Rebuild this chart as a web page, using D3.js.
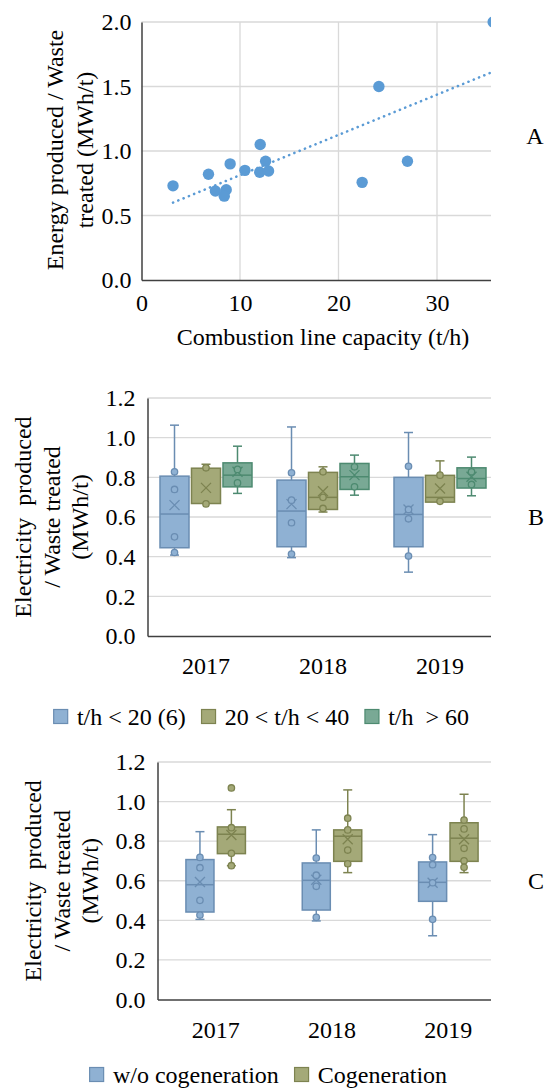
<!DOCTYPE html>
<html>
<head>
<meta charset="utf-8">
<script src="https://cdn.jsdelivr.net/npm/d3@7"></script>
<style>
    body { margin: 0; background: #fff; }
    svg text { font-family: "Liberation Serif", "Times New Roman", serif; font-size: 24px; fill: #000; }
    .grid line { stroke: #d9d9d9; stroke-width: 1.3; }
    .axis path { stroke: #404040; stroke-width: 1.5; }
</style>
</head>
<body>
<div id="chart"></div>
<script>
// ---- panel A : scatter ----
var capacityA = [3.2, 6.8, 7.5, 8.6, 8.4, 9.0, 10.5, 12.05, 12.0, 12.6, 12.9, 22.4, 24.1, 27.0, 35.7];
var energyA = [0.73, 0.82, 0.69, 0.70, 0.65, 0.90, 0.85, 1.05, 0.835, 0.92, 0.845, 0.757, 1.50, 0.92, 2.0];
var trendX = [3.2, 35.7];
var trendY = [0.60, 1.615];
var xTicksA = [0, 10, 20, 30];
var yTicksA = [0, 0.5, 1.0, 1.5, 2.0];

// ---- panels B and C : box plots ----
var years = ['2017', '2018', '2019'];
var yTicksBox = [0, 0.2, 0.4, 0.6, 0.8, 1.0, 1.2];

var groupsB = ['t/h < 20 (6)', '20 < t/h < 40', 't/h  > 60'];
var boxesB = [
    { year: '2017', group: 0, min: 0.408, q1: 0.445, median: 0.615, q3: 0.806, max: 1.063, mean: 0.66, points: [0.828, 0.739, 0.50, 0.421] },
    { year: '2017', group: 1, min: 0.668, q1: 0.668, median: null, q3: 0.846, max: 0.866, mean: 0.747, points: [0.848, 0.666] },
    { year: '2017', group: 2, min: 0.719, q1: 0.752, median: 0.811, q3: 0.873, max: 0.957, mean: 0.828, points: [0.840, 0.772] },
    { year: '2018', group: 0, min: 0.395, q1: 0.45, median: 0.63, q3: 0.786, max: 1.054, mean: 0.665, points: [0.823, 0.685, 0.571, 0.413] },
    { year: '2018', group: 1, min: 0.625, q1: 0.638, median: 0.699, q3: 0.825, max: 0.853, mean: 0.730, points: [0.828, 0.699, 0.643] },
    { year: '2018', group: 2, min: 0.710, q1: 0.739, median: 0.803, q3: 0.870, max: 0.912, mean: 0.811, points: [0.853, 0.752] },
    { year: '2019', group: 0, min: 0.322, q1: 0.45, median: 0.613, q3: 0.80, max: 1.026, mean: 0.638, points: [0.856, 0.638, 0.591, 0.403] },
    { year: '2019', group: 1, min: 0.675, q1: 0.675, median: 0.699, q3: 0.81, max: 0.883, mean: 0.744, points: [0.811, 0.679] },
    { year: '2019', group: 2, min: 0.707, q1: 0.746, median: 0.794, q3: 0.848, max: 0.902, mean: 0.803, points: [0.828, 0.764] }
];

var groupsC = ['w/o cogeneration', 'Cogeneration'];
var boxesC = [
    { year: '2017', group: 0, min: 0.405, q1: 0.442, median: 0.58, q3: 0.707, max: 0.848, mean: 0.594, points: [0.718, 0.666, 0.501, 0.427] },
    { year: '2017', group: 1, min: 0.676, q1: 0.737, median: 0.835, q3: 0.872, max: 0.959, mean: 0.831, points: [1.069, 0.868, 0.739, 0.676] },
    { year: '2018', group: 0, min: 0.397, q1: 0.452, median: 0.602, q3: 0.69, max: 0.857, mean: 0.605, points: [0.715, 0.628, 0.572, 0.415] },
    { year: '2018', group: 1, min: 0.641, q1: 0.698, median: 0.825, q3: 0.857, max: 1.059, mean: 0.81, points: [0.916, 0.857, 0.755, 0.686] },
    { year: '2019', group: 0, min: 0.322, q1: 0.496, median: 0.592, q3: 0.695, max: 0.833, mean: 0.59, points: [0.717, 0.681, 0.59, 0.405] },
    { year: '2019', group: 1, min: 0.641, q1: 0.698, median: 0.815, q3: 0.893, max: 1.037, mean: 0.81, points: [0.907, 0.862, 0.764, 0.701, 0.668] }
];

var fills = ['#8fb1d3', '#a4a978', '#79a995'];
var strokes = ['#6a8db2', '#7d8350', '#4d8a70'];
var fillsC = [fills[0], fills[1]];
var strokesC = [strokes[0], strokes[1]];

var W = 547, H = 1090, CLIP_X = 491;

var svg = d3.select('#chart').append('svg')
    .attr('width', W)
    .attr('height', H);

svg.append('defs').append('clipPath')
    .attr('id', 'crop')
    .append('rect')
    .attr('x', 0).attr('y', -2000)
    .attr('width', CLIP_X).attr('height', 5000);

function yTitle(lines, xs, cy) {
    lines.forEach(function (t, i) {
        svg.append('text')
            .attr('transform', 'translate(' + xs[i] + ',' + cy + ') rotate(-90)')
            .attr('text-anchor', 'middle')
            .attr('dominant-baseline', 'central')
            .style('white-space', 'pre')
            .text(t);
    });
}

function styleAxis(g) {
    g.attr('class', 'axis');
    g.selectAll('text').attr('font-size', null).attr('font-family', null);
}

// ================= A =================
var xA = d3.scaleLinear().domain([0, 40]).range([141.5, 535.5]);
var yA = d3.scaleLinear().domain([0, 2]).range([280, 22]);

var gridA = svg.append('g').attr('class', 'grid').attr('clip-path', 'url(#crop)');
gridA.selectAll('.h').data(yTicksA.slice(1)).enter().append('line')
    .attr('x1', xA(0)).attr('x2', xA(40))
    .attr('y1', function (d) { return yA(d); })
    .attr('y2', function (d) { return yA(d); });
gridA.selectAll('.v').data([10, 20, 30, 40]).enter().append('line')
    .attr('x1', function (d) { return xA(d); })
    .attr('x2', function (d) { return xA(d); })
    .attr('y1', yA(2)).attr('y2', yA(0));

var plotA = svg.append('g').attr('clip-path', 'url(#crop)');
plotA.selectAll('circle').data(capacityA).enter().append('circle')
    .attr('cx', function (d) { return xA(d); })
    .attr('cy', function (d, i) { return yA(energyA[i]); })
    .attr('r', 5.7)
    .style('fill', '#5b9bd5');

plotA.append('path')
    .datum(trendX.map(function (d, i) { return [d, trendY[i]]; }))
    .attr('d', d3.line().x(function (d) { return xA(d[0]); }).y(function (d) { return yA(d[1]); }))
    .style('fill', 'none')
    .style('stroke', '#5b9bd5')
    .style('stroke-width', 2.6)
    .style('stroke-linecap', 'round')
    .style('stroke-dasharray', '0.1 5.6');

svg.append('g')
    .attr('transform', 'translate(' + xA(0) + ',0)')
    .call(d3.axisLeft(yA).tickValues(yTicksA).tickFormat(d3.format('.1f')).tickSize(0).tickPadding(10))
    .call(styleAxis);

svg.append('g')
    .attr('transform', 'translate(0,' + yA(0) + ')')
    .attr('clip-path', 'url(#crop)')
    .call(d3.axisBottom(xA).tickValues(xTicksA).tickSize(0).tickPadding(14))
    .call(styleAxis);

svg.append('text')
    .attr('x', 323).attr('y', 345)
    .attr('text-anchor', 'middle')
    .text('Combustion line capacity (t/h)');

yTitle(['Energy produced / Waste', 'treated (MWh/t)'], [55, 85], 150);

svg.append('text').attr('x', 535).attr('y', 144).attr('text-anchor', 'middle').text('A');

// ================= B & C =================
function boxPanel(opt) {
    var x0 = d3.scaleBand().domain(years).range(opt.xRange);
    var x1 = d3.scaleBand().domain(d3.range(opt.groups.length))
        .range([0, x0.bandwidth()])
        .paddingInner(opt.padIn).paddingOuter(opt.padOut);
    var y = d3.scaleLinear().domain([0, 1.2]).range(opt.yRange);
    var left = opt.xRange[0];

    var grid = svg.append('g').attr('class', 'grid').attr('clip-path', 'url(#crop)');
    grid.selectAll('line').data(yTicksBox.slice(1)).enter().append('line')
        .attr('x1', left).attr('x2', opt.xRange[1])
        .attr('y1', function (d) { return y(d); })
        .attr('y2', function (d) { return y(d); });

    var boxes = svg.append('g').attr('clip-path', 'url(#crop)')
        .selectAll('g').data(opt.data).enter().append('g')
        .each(function (d) {
            var g = d3.select(this);
            var w = x1.bandwidth();
            var bx = x0(d.year) + x1(d.group);
            var cx = bx + w / 2;
            var col = opt.strokes[d.group];
            // whiskers
            [[d.q3, d.max], [d.q1, d.min]].forEach(function (p) {
                if (p[0] === p[1]) return;
                g.append('line').attr('x1', cx).attr('x2', cx)
                    .attr('y1', y(p[0])).attr('y2', y(p[1]))
                    .style('stroke', col).style('stroke-width', 1.5);
                g.append('line').attr('x1', cx - 4.5).attr('x2', cx + 4.5)
                    .attr('y1', y(p[1])).attr('y2', y(p[1]))
                    .style('stroke', col).style('stroke-width', 1.5);
            });
            g.append('rect')
                .attr('x', bx).attr('width', w)
                .attr('y', y(d.q3)).attr('height', y(d.q1) - y(d.q3))
                .style('fill', opt.fills[d.group])
                .style('stroke', col).style('stroke-width', 1.5);
            if (d.median !== null) {
                g.append('line').attr('x1', bx).attr('x2', bx + w)
                    .attr('y1', y(d.median)).attr('y2', y(d.median))
                    .style('stroke', col).style('stroke-width', 1.5);
            }
            // mean marker (x)
            var my = y(d.mean), s = 5;
            g.append('path')
                .attr('d', 'M' + (cx - s) + ',' + (my - s) + 'L' + (cx + s) + ',' + (my + s) +
                    'M' + (cx - s) + ',' + (my + s) + 'L' + (cx + s) + ',' + (my - s))
                .style('stroke', col).style('stroke-width', 1.3).style('fill', 'none');
            g.selectAll('circle').data(d.points).enter().append('circle')
                .attr('cx', cx).attr('cy', function (v) { return y(v); })
                .attr('r', 3.2)
                .style('fill', opt.fills[d.group])
                .style('stroke', col).style('stroke-width', 1.3);
        });

    svg.append('g')
        .attr('transform', 'translate(' + left + ',0)')
        .call(d3.axisLeft(y).tickValues(yTicksBox).tickFormat(d3.format('.1f')).tickSize(0).tickPadding(12))
        .call(styleAxis);

    svg.append('g')
        .attr('transform', 'translate(0,' + opt.yRange[0] + ')')
        .attr('clip-path', 'url(#crop)')
        .call(d3.axisBottom(x0).tickSize(0).tickPadding(21))
        .call(styleAxis);

    yTitle(['Electricity  produced', '/ Waste treated', '(MWh/t)'], opt.titleX, (opt.yRange[0] + opt.yRange[1]) / 2);

    svg.append('text').attr('x', 536).attr('y', (opt.yRange[0] + opt.yRange[1]) / 2 + 8)
        .attr('text-anchor', 'middle').text(opt.label);

    // legend, laid out left to right then centred
    var leg = svg.append('g');
    var cursor = 0;
    opt.groups.forEach(function (name, i) {
        leg.append('rect')
            .attr('x', cursor + 0.75).attr('y', -7.5)
            .attr('width', 14).attr('height', 14)
            .style('fill', opt.fills[i]).style('stroke', opt.strokes[i]).style('stroke-width', 1.2);
        var t = leg.append('text')
            .attr('x', cursor + 24).attr('y', 8)
            .style('white-space', 'pre')
            .text(name);
        cursor += 24 + t.node().getComputedTextLength() + 15;
    });
    cursor -= 15;
    leg.attr('transform', 'translate(' + (opt.legendCenter - cursor / 2) + ',' + opt.legendY + ')');
}

boxPanel({
    data: boxesB, groups: groupsB, fills: fills, strokes: strokes,
    xRange: [147.5, 498.5], yRange: [636, 398], padIn: 0.079, padOut: 0.397,
    titleX: [23, 52, 80], label: 'B', legendCenter: 261, legendY: 717
});

boxPanel({
    data: boxesC, groups: groupsC, fills: fillsC, strokes: strokesC,
    xRange: [157.5, 506.5], yRange: [999.5, 762], padIn: 0.108, padOut: 0.904,
    titleX: [32.5, 61.5, 89.5], label: 'C', legendCenter: 268, legendY: 1075
});
</script>
</body>
</html>
